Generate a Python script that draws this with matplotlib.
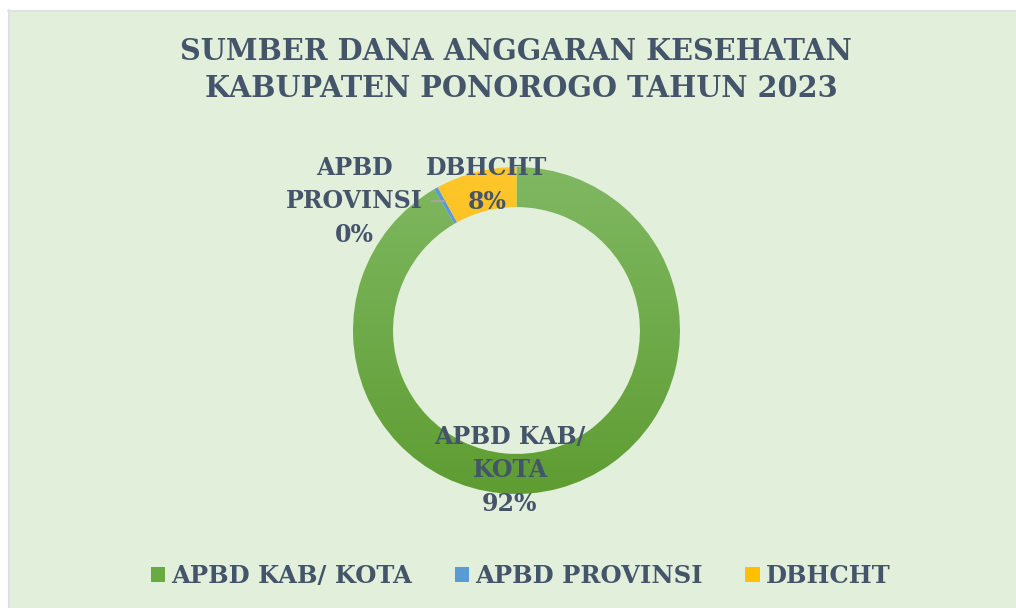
import numpy as np
import matplotlib.pyplot as plt
from matplotlib.patches import Rectangle, Patch
from matplotlib.colors import LinearSegmentedColormap

# Funding sources (share of the 2023 health budget, %)
sources = ["APBD KAB/ KOTA", "APBD PROVINSI", "DBHCHT"]
shares = [91.6, 0.4, 8.0]
label_names = ["APBD KAB/\nKOTA", "APBD\nPROVINSI", "DBHCHT"]

title = "SUMBER DANA ANGGARAN KESEHATAN\n KABUPATEN PONOROGO TAHUN 2023"

text_color = "#44546A"
bg_color = "#E2EFDA"
gradients = [("#80B862", "#5E9D32"), ("#5B9BD5", "#5B9BD5"), ("#FFC72C", "#EDAE00")]
legend_colors = ["#6AAA44", "#5B9BD5", "#FFC000"]
font = {"family": "DejaVu Serif", "weight": "bold"}

W, H = 1016, 608
fig = plt.figure(figsize=(W / 100, H / 100), dpi=100, facecolor="white")

# chart area background with a thin margin on the top and left
fig.patches.append(Rectangle((8 / W, 0), 1, 1 - 10 / H, transform=fig.transFigure,
                             facecolor=bg_color, edgecolor="none", zorder=-10))
fig.add_artist(plt.Line2D([8 / W, 1], [1 - 10.5 / H] * 2, transform=fig.transFigure,
                          color="#DCDFE6", lw=1.2, zorder=-9))
fig.add_artist(plt.Line2D([8.5 / W] * 2, [0, 1 - 10 / H], transform=fig.transFigure,
                          color="#DCDCEC", lw=1.2, zorder=-9))

fig.text(516 / W, 1 - 70 / H, title, ha="center", va="center", color=text_color,
         fontsize=20.7, linespacing=1.37, **font)

# donut axes
cx, cy, r = 516.5, 330.5, 163.5
ax = fig.add_axes([(cx - r) / W, 1 - (cy + r) / H, 2 * r / W, 2 * r / H])
ax.set_facecolor("none")
wedges, _ = ax.pie(shares, startangle=90, counterclock=False, radius=1.0,
                   wedgeprops=dict(width=0.245, edgecolor="none", linewidth=0))
ax.set_xlim(-1, 1)
ax.set_ylim(-1, 1)
ax.set_aspect("equal")
ax.axis("off")

grad = np.linspace(1, 0, 256).reshape(-1, 1)
for w, (top, bottom) in zip(wedges, gradients):
    cmap = LinearSegmentedColormap.from_list("g", [bottom, top])
    w.set_facecolor("none")
    im = ax.imshow(grad, extent=[-1, 1, -1, 1], origin="upper", cmap=cmap,
                   aspect="auto", zorder=1, interpolation="bilinear", vmin=0, vmax=1)
    im.set_clip_path(w)

# data labels
pct = [f"{round(s):d}%" for s in shares]
label_pos = [(-0.04, -0.855), (-0.994, 0.79), (-0.18, 0.89)]
for name, p, (x, y) in zip(label_names, pct, label_pos):
    ax.text(x, y, f"{name}\n{p}", ha="center", va="center", color=text_color,
            fontsize=17, linespacing=1.5, zorder=5, **font)

# leader line for the thin slice
ax.plot([-0.517, -0.437], [0.792, 0.792], color="#A5A5A5", lw=1.3, zorder=4)

handles = [Patch(facecolor=c, edgecolor="none") for c in legend_colors]
fig.legend(handles, sources, loc="center", bbox_to_anchor=(520.5 / W, 1 - 576 / H),
           ncol=3, frameon=False, prop=dict(size=17.5, **font), labelcolor=text_color,
           handlelength=0.58, handleheight=0.58, handletextpad=0.25, columnspacing=1.77)

fig.savefig("out.png", dpi=100, facecolor=fig.get_facecolor())
